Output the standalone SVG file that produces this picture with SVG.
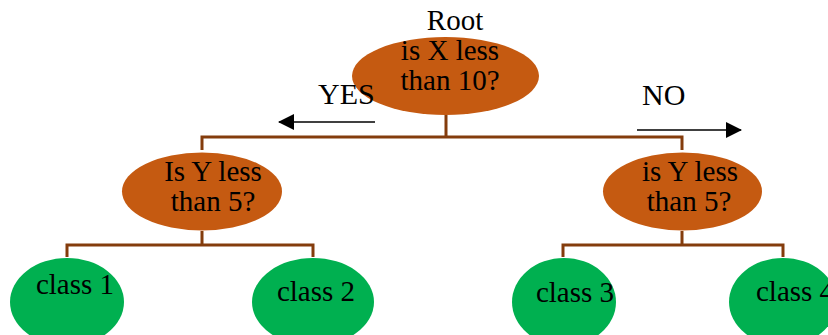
<svg xmlns="http://www.w3.org/2000/svg" width="828" height="335" viewBox="0 0 828 335">
<style>
.dec{fill:#C55A11}
.leaf{fill:#00B050}
.t{font-family:"Liberation Serif","Times New Roman",serif;font-size:29px;fill:#000;text-anchor:middle}
.lbl{font-family:"Liberation Serif","Times New Roman",serif;font-size:30px;fill:#000}
.br{fill:none;stroke:#843C0C;stroke-width:3}
.ar{fill:none;stroke:#000;stroke-width:1.5}
</style>
<defs>
<marker id="ah" viewBox="0 0 16 16" refX="15" refY="8" markerWidth="16" markerHeight="16" markerUnits="userSpaceOnUse" orient="auto">
<path d="M0,0 L16,8 L0,16 Z" fill="#000"/>
</marker>
</defs>
<g id="connectors">
<path class="br" d="M446,115 V137 M202,150 V137 H682 V150"/>
<path class="br" d="M202,231 V245 M67,257 V245 H313 V257"/>
<path class="br" d="M682,231 V245 M563,257 V245 H783 V257"/>
<line class="ar" x1="375" y1="122" x2="279" y2="122" marker-end="url(#ah)"/>
<line class="ar" x1="637" y1="130" x2="741" y2="130" marker-end="url(#ah)"/>
</g>
<g id="root">
<text class="lbl" x="455" y="30" style="text-anchor:middle;font-size:29px">Root</text>
<ellipse class="dec" cx="445.5" cy="76" rx="93.5" ry="39"/>
<text class="t" x="450" y="60">is X less</text>
<text class="t" x="450" y="89.5">than 10?</text>
</g>
<g id="left-node">
<ellipse class="dec" cx="202" cy="191.5" rx="80" ry="39"/>
<text class="t" x="213" y="181">Is Y less</text>
<text class="t" x="213" y="211">than 5?</text>
</g>
<g id="right-node">
<ellipse class="dec" cx="682.5" cy="191.5" rx="79.5" ry="39"/>
<text class="t" x="690" y="181">is Y less</text>
<text class="t" x="689" y="211">than 5?</text>
</g>
<g id="class1">
<ellipse class="leaf" cx="67" cy="302" rx="57" ry="44"/>
<text class="t" x="75" y="294">class 1</text>
</g>
<g id="class2">
<ellipse class="leaf" cx="313" cy="302" rx="61" ry="44"/>
<text class="t" x="316" y="301">class 2</text>
</g>
<g id="class3">
<ellipse class="leaf" cx="564" cy="302" rx="52" ry="44"/>
<text class="t" x="575" y="302">class 3</text>
</g>
<g id="class4">
<ellipse class="leaf" cx="783" cy="302" rx="54" ry="44"/>
<text class="t" x="756" y="301" style="text-anchor:start">class 4</text>
</g>
<g id="labels">
<text class="lbl" x="318" y="104">YES</text>
<text class="lbl" x="642" y="105">NO</text>
</g>
</svg>
